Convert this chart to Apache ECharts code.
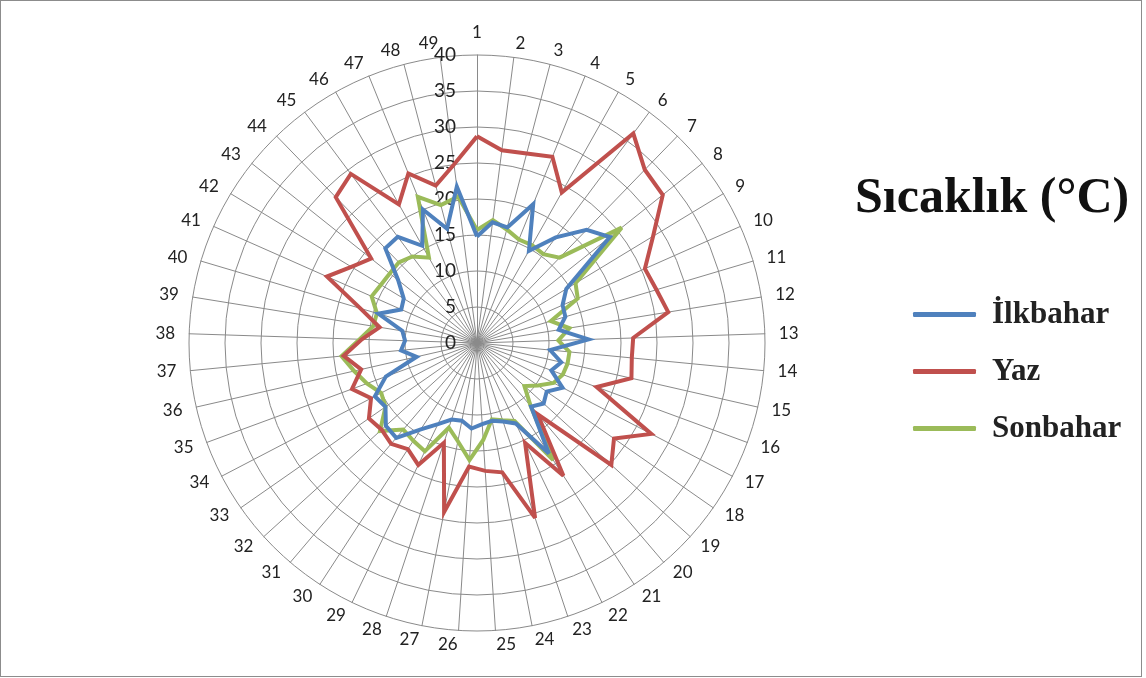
<!DOCTYPE html>
<html>
<head>
<meta charset="utf-8">
<script src="https://cdn.jsdelivr.net/npm/echarts@6/dist/echarts.min.js"></script>
<style>
  html, body { margin: 0; padding: 0; background: #ffffff; }
  #chart { position: absolute; left: 0; top: 0; width: 1140px; height: 675px; border: 1px solid #8c8c8c; }
</style>
</head>
<body>
<div id="chart"></div>
<script>
// Station numbers around the radar
const stations = ['1','2','3','4','5','6','7','8','9','10','11','12','13','14','15','16','17','18','19','20',
  '21','22','23','24','25','26','27','28','29','30','31','32','33','34','35','36','37','38','39','40',
  '41','42','43','44','45','46','47','48','49'];

// Temperature (°C) per station and season
const ilkbahar = [14.8, 16.9, 16.6, 20.8, 14.7, 18.3, 21.9, 23.6, 14.5, 13.0,
  12.8, 11.5, 15.5, 10.2, 12.0, 11.0, 13.4, 11.8, 12.5, 11.6,
  18.3, 12.4, 11.5, 11.0, 11.3, 11.9, 11.0, 11.2, 12.5, 14.3,
  17.3, 17.1, 15.5, 16.0, 13.5, 8.6, 10.6, 10.0, 10.5, 14.3,
  11.5, 11.9, 14.0, 18.3, 18.4, 15.5, 20.0, 16.4, 21.9];
const yaz = [28.7, 27.0, 27.2, 27.9, 24.0, 36.3, 33.5, 33.0, 28.6, 25.5,
  26.0, 26.9, 21.7, 21.6, 22.0, 17.7, 27.3, 23.2, 25.2, 13.0,
  22.0, 15.4, 25.6, 18.3, 17.8, 17.2, 23.9, 14.6, 18.8, 17.6,
  18.4, 17.9, 18.3, 16.6, 18.5, 16.5, 18.6, 16.0, 13.7, 16.9,
  22.8, 20.4, 18.8, 28.2, 29.3, 22.1, 25.4, 22.6, 25.0];
const sonbahar = [15.7, 17.2, 16.3, 15.5, 15.6, 15.4, 16.5, 25.7, 16.0, 15.3,
  10.7, 13.0, 11.3, 12.9, 12.9, 12.7, 12.0, 10.3, 8.9, 11.5,
  19.4, 12.0, 11.3, 10.8, 13.5, 16.3, 13.9, 12.4, 16.7, 16.2,
  15.8, 18.2, 15.5, 15.0, 16.3, 17.5, 18.9, 16.3, 14.6, 14.5,
  16.0, 15.6, 15.5, 15.6, 15.0, 13.6, 21.9, 19.8, 20.5];

const seasons = ['İlkbahar', 'Yaz', 'Sonbahar'];
const tempMin = 0, tempMax = 40, tempStep = 5;

const CENTER = [476, 342];
const RADIUS = 288;
const GRID_COLOR = '#8a8a8a';

// ECharts lays radar indicators counter-clockwise; walk the stations in
// reverse after the first one so they run clockwise from the top.
const order = [0];
for (let i = stations.length - 1; i >= 1; i--) order.push(i);

function radarSeries(name, values, color, z) {
  return {
    type: 'radar',
    name: name,
    z: z,
    symbol: 'none',
    lineStyle: { color: color, width: 4, join: 'miter', miterLimit: 4 },
    itemStyle: { color: color },
    data: [{ name: name, value: order.map(i => values[i]) }]
  };
}

const chart = echarts.init(document.getElementById('chart'));
chart.setOption({
  animation: false,
  backgroundColor: '#ffffff',
  title: {
    text: 'Sıcaklık (°C)',
    left: 849,
    top: 168,
    textStyle: { fontFamily: 'Liberation Serif', fontWeight: 'bold', fontSize: 50, color: '#111111' }
  },
  legend: {
    data: seasons,
    orient: 'vertical',
    left: 907,
    top: 293,
    itemWidth: 63,
    itemHeight: 5,
    itemGap: 26,
    icon: 'roundRect',
    textStyle: {
      fontFamily: 'Liberation Serif', fontWeight: 'bold', fontSize: 31, color: '#222222',
      lineHeight: 30, padding: [0, 0, 0, 11]
    }
  },
  radar: {
    center: CENTER,
    radius: RADIUS,
    startAngle: 90,
    shape: 'circle',
    splitNumber: (tempMax - tempMin) / tempStep,
    indicator: order.map(i => ({ name: stations[i], min: tempMin, max: tempMax })),
    nameGap: 14,
    axisName: { color: '#222222', fontSize: 17, fontFamily: 'Lato' },
    axisLine: { lineStyle: { color: GRID_COLOR, width: 1 } },
    splitLine: { lineStyle: { color: GRID_COLOR, width: 1 } },
    splitArea: { show: false },
    axisTick: { show: false },
    axisLabel: { show: false }
  },
  // Polar frame sharing the radar's centre, used only for the 0–40 scale labels
  polar: { center: CENTER, radius: RADIUS },
  angleAxis: { show: false, startAngle: 90, min: 0, max: 360 },
  radiusAxis: {
    min: tempMin,
    max: tempMax,
    interval: tempStep,
    axisLine: { show: false },
    axisTick: { show: false },
    splitLine: { show: false },
    axisLabel: { show: true, fontSize: 19, fontFamily: 'Lato', color: '#222222', margin: 21, align: 'right' }
  },
  series: [
    radarSeries('Sonbahar', sonbahar, '#9bbb59', 2),
    radarSeries('Yaz', yaz, '#c0504d', 3),
    radarSeries('İlkbahar', ilkbahar, '#4f81bd', 4)
  ]
});
</script>
</body>
</html>
